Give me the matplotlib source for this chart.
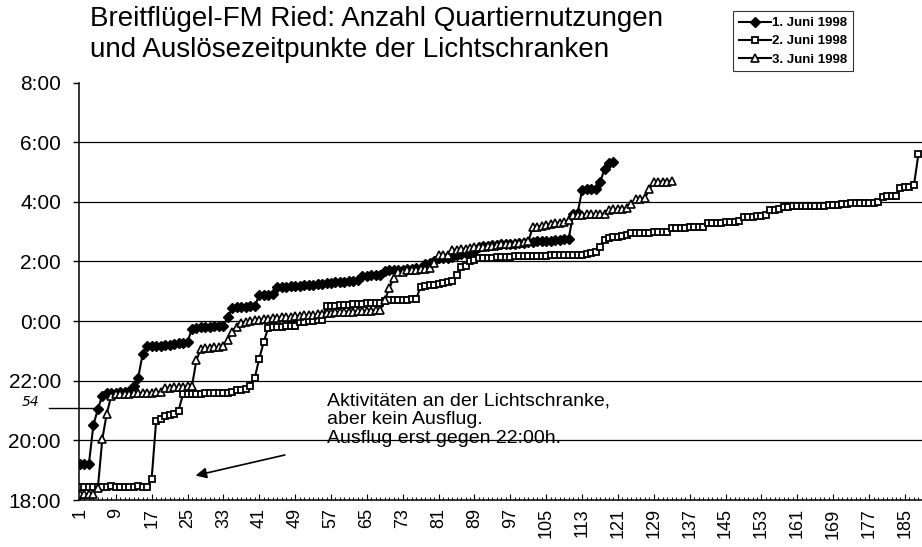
import matplotlib
matplotlib.use("Agg")
import matplotlib.pyplot as plt
import numpy as np

plt.rcParams['font.family'] = ['Liberation Sans', 'DejaVu Sans']

# times in hours, 18 = 18:00, 24 = 0:00, 30 = 6:00
juni1 = [19.2, 19.2, 19.2, 20.5, 21.05, 21.5,
         21.6, 21.6, 21.6, 21.62, 21.62, 21.65, 21.83, 22.1, 22.9,
         23.15, 23.15, 23.17, 23.17, 23.2, 23.2, 23.22, 23.25, 23.28, 23.3,
         23.75, 23.77, 23.8, 23.8, 23.8, 23.82, 23.82, 23.85, 24.13,
         24.45, 24.47, 24.48, 24.48, 24.5, 24.5, 24.87, 24.88, 24.88, 24.9,
         25.13, 25.15, 25.15, 25.17, 25.17, 25.18, 25.2, 25.2, 25.22, 25.23,
         25.25, 25.27, 25.28, 25.3, 25.3, 25.32, 25.33, 25.35, 25.37,
         25.5, 25.52, 25.53, 25.55, 25.55,
         25.68, 25.7, 25.7, 25.72, 25.72, 25.73, 25.75, 25.77, 25.78,
         25.9, 25.95, 26.0, 26.1, 26.12, 26.13, 26.15, 26.2,
         26.25, 26.27, 26.3, 26.35,
         26.5, 26.52, 26.53, 26.55, 26.55, 26.57, 26.58, 26.6, 26.6, 26.62,
         26.63, 26.65, 26.65, 26.67, 26.68, 26.7, 26.7, 26.72, 26.73, 26.75, 26.75,
         27.6, 27.62, 28.4, 28.42, 28.42, 28.43, 28.65, 29.1, 29.3, 29.33]

juni2 = [18.45, 18.45, 18.43, 18.45, 18.45, 18.45, 18.45, 18.47, 18.45, 18.45,
         18.45, 18.45, 18.45, 18.47, 18.45, 18.45, 18.7, 20.65, 20.7,
         20.82, 20.85, 20.87, 21.0,
         21.55, 21.55, 21.57, 21.57, 21.57, 21.58, 21.58, 21.58, 21.6, 21.6, 21.6, 21.62,
         21.68, 21.7, 21.72, 21.83, 22.1, 22.74, 23.3,
         23.78, 23.8, 23.8, 23.8, 23.82, 23.82, 23.83,
         23.97, 23.98, 24.0, 24.0, 24.02, 24.03,
         24.5, 24.52, 24.52, 24.53, 24.55, 24.55, 24.57, 24.57, 24.58, 24.6, 24.6, 24.62, 24.62,
         24.68, 24.7, 24.7, 24.7, 24.72, 24.72, 24.73, 24.75,
         25.15, 25.17, 25.2, 25.22, 25.25, 25.27, 25.3, 25.33,
         25.55, 25.8, 25.83, 26.0, 26.05,
         26.12, 26.13, 26.13, 26.13, 26.15, 26.15, 26.15, 26.15, 26.17, 26.17,
         26.17, 26.17, 26.18, 26.18, 26.18, 26.18, 26.2, 26.2, 26.2, 26.2,
         26.22, 26.22, 26.22, 26.23, 26.25, 26.27, 26.3,
         26.5, 26.73, 26.8, 26.82, 26.83, 26.85, 26.87,
         26.95, 26.95, 26.97, 26.97, 26.97, 26.98, 26.98, 27.0, 27.0,
         27.12, 27.12, 27.13, 27.13, 27.15, 27.15, 27.15, 27.17,
         27.28, 27.28, 27.3, 27.3, 27.32, 27.32, 27.33, 27.35,
         27.48, 27.5, 27.5, 27.52, 27.53, 27.55,
         27.72, 27.73, 27.75,
         27.83, 27.83, 27.85, 27.85, 27.85, 27.85, 27.87, 27.87, 27.87, 27.87, 27.88, 27.88, 27.88,
         27.93, 27.93, 27.95, 27.95, 27.95, 27.95, 27.97, 27.97, 27.98,
         28.17, 28.18, 28.2, 28.2, 28.47, 28.48, 28.5, 28.55, 29.6]

juni3 = [18.2, 18.2, 18.2, 18.2, 18.4, 20.05, 20.9, 21.5,
         21.55, 21.55, 21.57, 21.57, 21.58, 21.58, 21.6, 21.6, 21.6, 21.62, 21.62,
         21.75, 21.77, 21.78, 21.8, 21.8, 21.82, 21.83, 22.7,
         23.08, 23.1, 23.1, 23.12, 23.12, 23.15, 23.38, 23.63, 23.8,
         23.95, 23.97, 24.0, 24.02,
         24.05, 24.07, 24.08, 24.1, 24.1, 24.12, 24.13, 24.15, 24.17, 24.18,
         24.2, 24.2, 24.22, 24.23, 24.25, 24.27, 24.28, 24.3,
         24.3, 24.3, 24.32, 24.32, 24.33, 24.33, 24.35, 24.35, 24.37, 24.38,
         24.7, 25.1, 25.45, 25.63, 25.65,
         25.7, 25.72, 25.72, 25.73, 25.75, 25.77, 25.95, 26.2, 26.22, 26.23,
         26.38, 26.4, 26.42, 26.43, 26.45, 26.47, 26.48, 26.5, 26.52, 26.53,
         26.55, 26.57, 26.58, 26.6, 26.62, 26.63, 26.65, 26.67,
         27.15, 27.17, 27.2, 27.22, 27.25, 27.28, 27.3, 27.33, 27.38,
         27.55, 27.57, 27.57, 27.58, 27.58, 27.6, 27.6, 27.6,
         27.73, 27.75, 27.75, 27.77, 27.78, 27.92, 28.08, 28.1, 28.12, 28.42,
         28.65, 28.67, 28.68, 28.68, 28.7]

labels = ['1. Juni 1998', '2. Juni 1998', '3. Juni 1998']
y_ticks = [18, 20, 22, 24, 26, 28, 30, 32]
title = 'Breitflügel-FM Ried: Anzahl Quartiernutzungen\nund Auslösezeitpunkte der Lichtschranken'
note = 'Aktivitäten an der Lichtschranke,\naber kein Ausflug.\nAusflug erst gegen 22:00h.'

fig = plt.figure(figsize=(9.22, 5.47), dpi=100)
ax = fig.add_axes([79 / 922, 1 - 500 / 547, 1 - 79 / 922, (500 - 82.5) / 547])

styles = [dict(marker='D', markersize=4.8, mfc='black', mec='black'),
          dict(marker='s', markersize=5, mfc='white', mec='black', mew=1.3),
          dict(marker='^', markersize=5.5, mfc='white', mec='black', mew=1.2)]

handles = []
for vals, st, lab in zip([juni1, juni2, juni3], styles, labels):
    x = np.arange(1, len(vals) + 1)
    h, = ax.plot(x, vals, color='black', lw=1.5, label=lab, **st)
    handles.append(h)

# gridlines
for yv in y_ticks[1:-1]:
    ax.axhline(yv, color='black', lw=0.9, zorder=0)

ax.set_ylim(18, 32)
ax.set_xlim(0.8, 188.8)
ax.set_yticks(y_ticks)
ax.set_yticklabels([f'{int(v) % 24}:00' for v in y_ticks], fontsize=15)
ax.set_xticks(np.arange(1, 189, 8))
ax.set_xticklabels([str(v) for v in range(1, 189, 8)], rotation=90, fontsize=13)
ax.set_xticks(np.arange(1, 189), minor=True)
ax.tick_params(axis='y', length=4, width=1, pad=9)
ax.tick_params(axis='x', which='major', direction='in', length=4, pad=6)
ax.tick_params(axis='x', which='minor', direction='in', length=2.5, width=0.7)
for s in ['top', 'right']:
    ax.spines[s].set_visible(False)
ax.spines['left'].set_linewidth(1.1)
ax.spines['bottom'].set_linewidth(1.1)

fig.text(90 / 922, 1 - 6 / 547, title, fontsize=20, va='top', ha='left', linespacing=1.26)

leg = fig.legend(handles=handles, labels=labels, loc='upper left',
                 bbox_to_anchor=(733 / 922, 1 - 11 / 547), frameon=True,
                 prop={'size': 9.5, 'weight': 'bold'}, handlelength=2.4,
                 handletextpad=0.1, labelspacing=0.45, borderpad=0.45,
                 borderaxespad=0, fancybox=False, edgecolor='black')
leg.get_frame().set_linewidth(0.8)

ax.text(56.2, 21.62, note, fontsize=14, va='top', ha='left', linespacing=1.15)
ax.annotate('', xy=(26.2, 18.8), xytext=(47.3, 19.53),
            arrowprops=dict(arrowstyle='-|>', color='black', lw=1.2,
                            mutation_scale=16))

# handwritten mark
ax.plot([-6.0, 5.0], [21.1, 21.1], color='black', lw=1.0, clip_on=False)
fig.text(22 / 922, 1 - 402 / 547, '54', fontsize=10, style='italic',
         va='center', ha='left', family='DejaVu Sans')

fig.savefig('out.png', dpi=100)
